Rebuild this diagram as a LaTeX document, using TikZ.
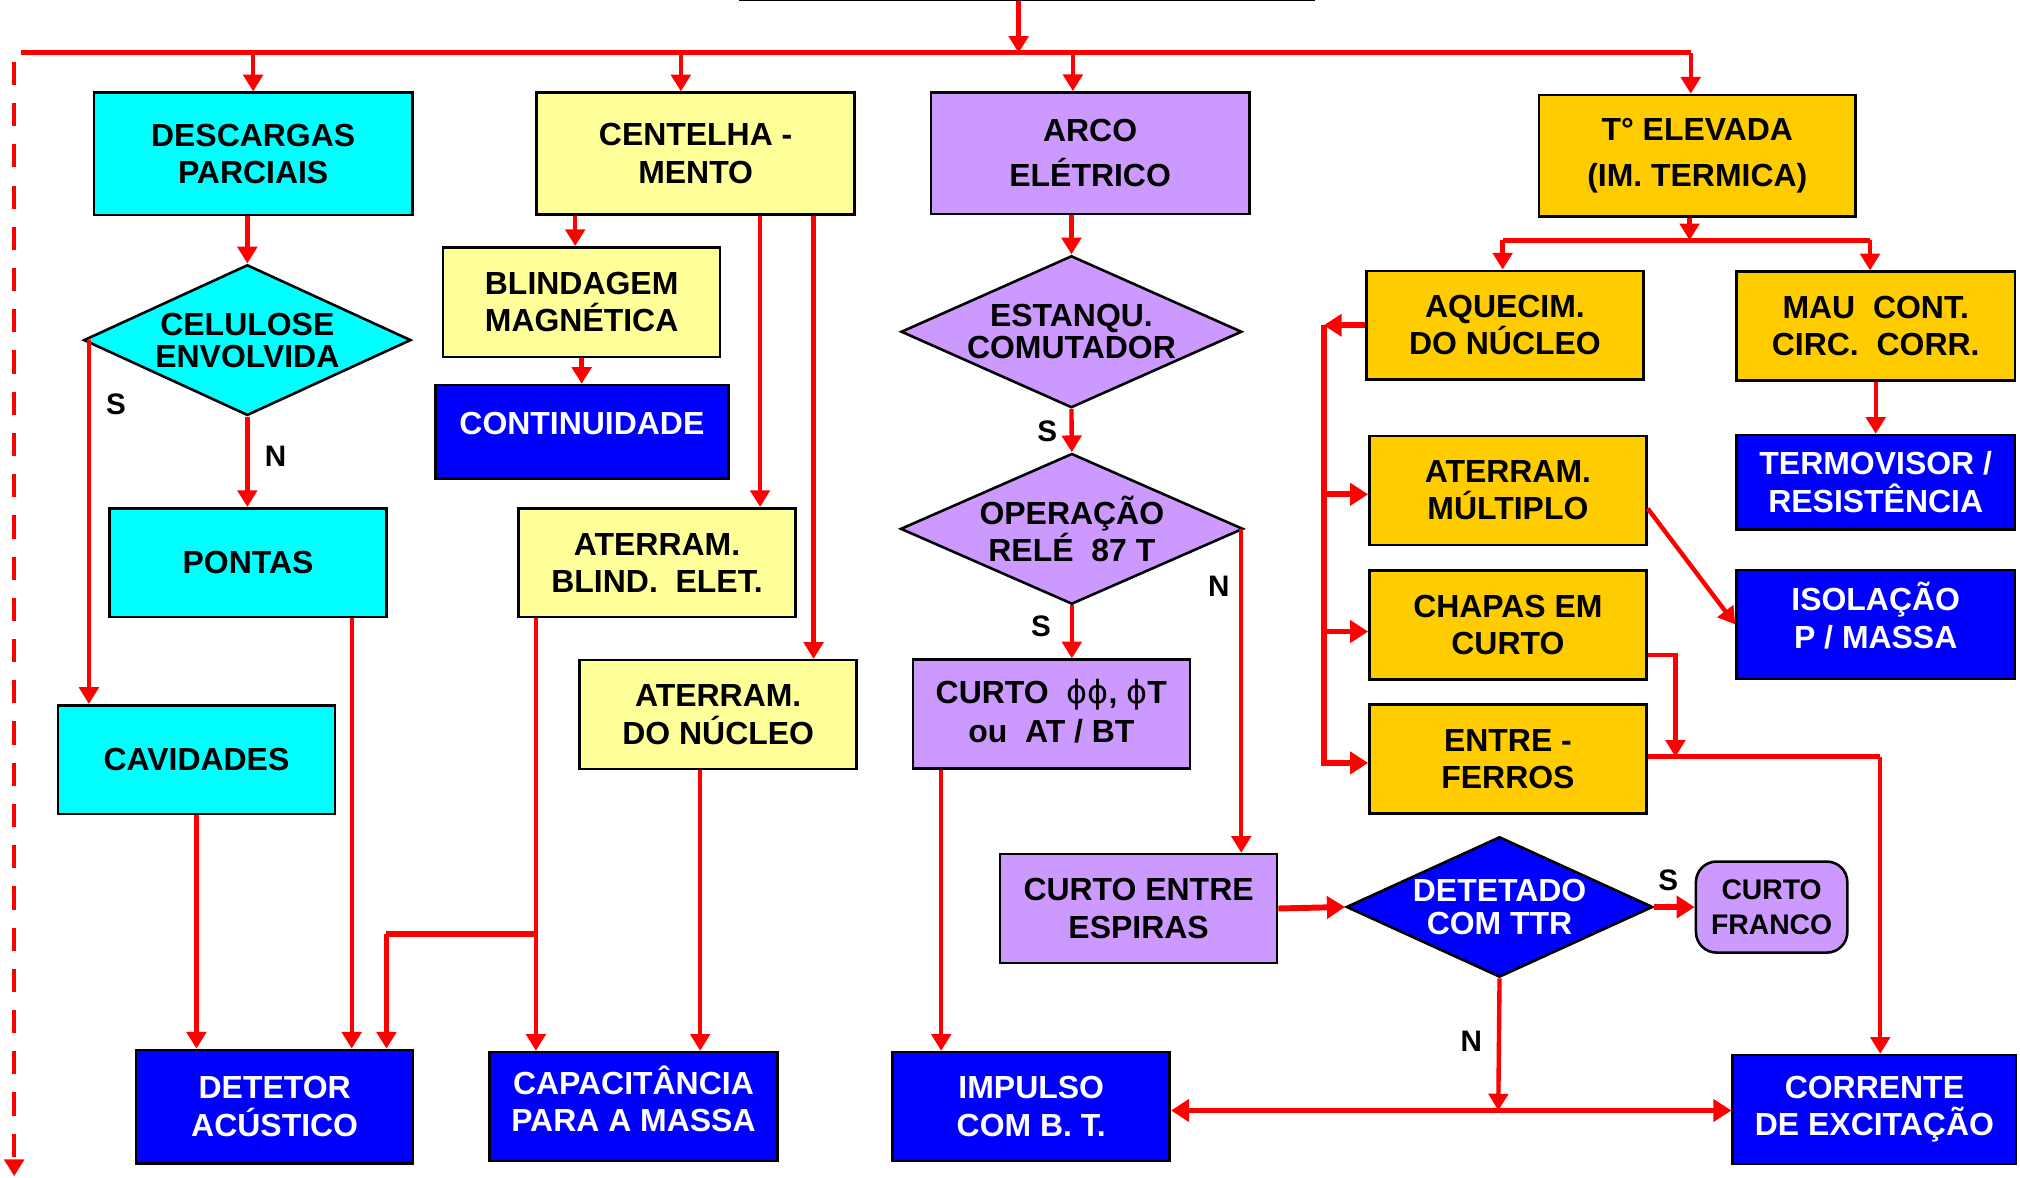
\documentclass[tikz,border=0pt]{standalone}
\usepackage{fontspec}
\setmainfont{Liberation Sans}
\newfontfamily\gregofont{DejaVu Sans}
\usepackage{tikz}
\usetikzlibrary{arrows.meta,shapes.geometric}
\definecolor{ciano}{RGB}{0,255,255}
\definecolor{amarelo}{RGB}{255,255,153}
\definecolor{lilas}{RGB}{204,153,255}
\definecolor{ouro}{RGB}{255,204,0}
\definecolor{azul}{RGB}{0,0,255}
\definecolor{vermelho}{RGB}{255,0,0}
\tikzstyle{caixa}=[rectangle,draw=black,line width=2pt,inner sep=0pt,align=center,font=\bfseries\fontsize{24.8}{29}\selectfont]
\tikzstyle{padrao}=[caixa,minimum width=215pt,minimum height=84.5pt]
\tikzstyle{grande}=[caixa,minimum width=247pt,minimum height=94.5pt]
\tikzstyle{losango}=[diamond,draw=black,line width=2pt,inner sep=-4pt,aspect=2.3,align=center,font=\bfseries\fontsize{24.8}{25}\selectfont]
\tikzstyle{escuro}=[fill=azul,text=white]
\tikzstyle{rotulo}=[inner sep=0pt,font=\bfseries\fontsize{23}{23}\selectfont]
\tikzstyle{fio}=[draw=vermelho,line width=3.4pt]
\tikzstyle{seta}=[fio,-{Triangle[length=13pt,width=15pt]}]
\tikzstyle{fiogrosso}=[draw=vermelho,line width=4.6pt]
\tikzstyle{setagrossa}=[fiogrosso,-{Triangle[length=14pt,width=17pt]}]
\tikzstyle{setadupla}=[fiogrosso,{Triangle[length=14pt,width=17pt]}-{Triangle[length=14pt,width=17pt]}]
\tikzstyle{tracejado}=[fio,dash pattern=on 18pt off 14pt,-{Triangle[length=13pt,width=15pt]}]

\begin{document}
\begin{tikzpicture}[x=1pt,y=-1pt]
	\useasboundingbox (0,0) rectangle (1568,914);
	\clip (0,0) rectangle (1568,914);
	\node[draw=black,line width=2pt,minimum width=445pt,minimum height=80pt,anchor=south] (origem) at (797,1) {};

	\node[grande,fill=ciano,minimum height=95pt] (descargas) at (196.5,119.5) {DESCARGAS\\PARCIAIS};
	\node[grande,fill=amarelo] (centelha) at (540,119.2) {CENTELHA -\\MENTO};
	\node[grande,fill=lilas,font=\bfseries\fontsize{24.8}{35}\selectfont] (arco) at (846.2,119) {ARCO\\ELÉTRICO};
	\node[grande,fill=ouro,minimum width=246pt,font=\bfseries\fontsize{24.8}{36}\selectfont] (elevada) at (1317.5,121) {T° ELEVADA\\(IM. TERMICA)};

	\node[losango,fill=ciano,minimum width=254pt,minimum height=117pt] (celulose) at (192,264) {CELULOSE\\ENVOLVIDA};
	\node[padrao,fill=ciano] (pontas) at (192.5,436.8) {PONTAS};
	\node[padrao,fill=ciano] (cavidades) at (152.5,589.7) {CAVIDADES};
	\node[padrao,escuro,minimum height=88pt] (detetor) at (213.2,859) {DETETOR\\ACÚSTICO};

	\node[padrao,fill=amarelo,minimum height=85pt] (blindagem) at (451.5,234.5) {BLINDAGEM\\MAGNÉTICA};
	\node[caixa,escuro,minimum width=227.5pt,minimum height=72.5pt,text depth=13pt] (continuidade) at (451.7,335.2) {CONTINUIDADE};
	\node[padrao,fill=amarelo] (blindelet) at (510,436.8) {ATERRAM.\\BLIND.\ \ ELET.};
	\node[padrao,fill=amarelo] (nucleo) at (557.5,554.7) {ATERRAM.\\DO NÚCLEO};
	\node[padrao,escuro,minimum width=223.5pt,text depth=12pt] (capacitancia) at (491.7,858.9) {CAPACITÂNCIA\\PARA A MASSA};

	\node[losango,fill=lilas,minimum width=264.5pt,minimum height=118pt] (estanqu) at (831.7,257.5) {ESTANQU.\\COMUTADOR};
	\node[losango,fill=lilas,minimum width=266pt,minimum height=117pt,font=\bfseries\fontsize{24.8}{26}\selectfont] (operacao) at (832,410.5) {OPERAÇÃO\\RELÉ\ \ 87 T};
	\node[padrao,fill=lilas,font=\bfseries\fontsize{24.8}{30}\selectfont,text depth=5pt] (curtofase) at (816.1,554.3) {CURTO\ \ {\gregofont\mdseries ϕϕ}, {\gregofont\mdseries ϕ}T\\ou\ \ AT / BT};
	\node[padrao,fill=lilas] (curtoesp) at (883.8,705.2) {CURTO ENTRE\\ESPIRAS};
	\node[padrao,escuro] (impulso) at (800.5,858.9) {IMPULSO\\COM B. T.};
	\node[losango,escuro,minimum width=238pt,minimum height=109pt] (detetado) at (1164,704) {DETETADO\\COM TTR};
	\node[caixa,fill=lilas,rounded corners=16pt,minimum width=117.5pt,minimum height=70.7pt,font=\bfseries\fontsize{22}{26.7}\selectfont] (franco) at (1375.2,704.1) {CURTO\\FRANCO};
	\node[padrao,escuro,minimum width=220pt] (corrente) at (1455,861.2) {CORRENTE\\DE EXCITAÇÃO};

	\node[padrao,fill=ouro] (aquecim) at (1168.2,252.5) {AQUECIM.\\DO NÚCLEO};
	\node[padrao,fill=ouro,minimum width=216pt] (maucont) at (1456,253.2) {MAU\ \ CONT.\\CIRC.\ \ CORR.};
	\node[padrao,fill=ouro] (multiplo) at (1170.5,380.7) {ATERRAM.\\MÚLTIPLO};
	\node[padrao,fill=ouro] (chapas) at (1170.5,485.2) {CHAPAS EM\\CURTO};
	\node[padrao,fill=ouro] (ferros) at (1170.5,589.2) {ENTRE -\\FERROS};
	\node[caixa,escuro,minimum width=216pt,minimum height=73.2pt] (termovisor) at (1456,374.3) {TERMOVISOR /\\RESISTÊNCIA};
	\node[padrao,escuro,minimum width=216pt,text depth=14pt] (isolacao) at (1456,484.7) {ISOLAÇÃO\\P / MASSA};

	\node[rotulo] (s1) at (90,314) {S};
	\node[rotulo] (n1) at (214,354) {N};
	\node[rotulo] (s2) at (813,335) {S};
	\node[rotulo] (s3) at (808,486) {S};
	\node[rotulo] (n2) at (946,455) {N};
	\node[rotulo] (s4) at (1295,683) {S};
	\node[rotulo] (n3) at (1142,808.5) {N};

	\coordinate (b0) at (16,41);
	\coordinate (b1) at (196.5,41);
	\coordinate (b2) at (528.5,41);
	\coordinate (bt) at (790.7,41);
	\coordinate (b3) at (832.8,41);
	\coordinate (b4) at (1312.4,41);
	\coordinate (d0) at (11,48);
	\coordinate (d1) at (11,913);
	\coordinate (j1) at (417,725);
	\coordinate (j2) at (300,725);
	\coordinate (j3) at (1163,862);
	\coordinate (j4) at (1311.5,186.5);
	\coordinate (j5) at (1166.4,186.5);
	\coordinate (j6) at (1451.6,186.5);
	\coordinate (j7) at (1027.5,252.5);
	\coordinate (j8) at (1300.5,587.5);
	\coordinate (j9) at (1459.5,587.5);
	\coordinate (em) at ([yshift=-3pt]multiplo.west);
	\coordinate (ec) at ([yshift=-5pt]chapas.west);
	\coordinate (ef) at ([yshift=-3pt]ferros.west);

	\path[fiogrosso,line width=4pt] (b0) -- (b4);
	\path[seta] (bt |- origem.south) -- (bt);
	\path[seta] (b1) -- (b1 |- descargas.north);
	\path[seta] (b2) -- (b2 |- centelha.north);
	\path[seta] (b3) -- (b3 |- arco.north);
	\path[seta] (b4) -- (b4 |- elevada.north);
	\path[tracejado] (d0) -- (d1);

	\path[seta] (celulose.north |- descargas.south) -- (celulose.north);
	\path[seta] ([xshift=5pt]celulose.west) -- ([xshift=5pt]celulose.west |- cavidades.north);
	\path[seta] (celulose.south) -- (celulose.south |- pontas.north);
	\path[seta] (cavidades.south) -- (cavidades.south |- detetor.north);
	\path[seta] ([xshift=80.5pt]pontas.south) -- ([xshift=80.5pt]pontas.south |- detetor.north);
	\path[fiogrosso,line width=4pt] (j1) -- (j2);
	\path[seta] (j2) -- (j2 |- detetor.north);

	\path[seta] ([xshift=31pt]centelha.south west) -- ([xshift=31pt]centelha.south west |- blindagem.north);
	\path[seta] (blindagem.south) -- (blindagem.south |- continuidade.north);
	\path[seta] ([xshift=50pt]centelha.south) -- ([xshift=50pt]centelha.south |- blindelet.north);
	\path[seta] ([xshift=91.5pt]centelha.south) -- ([xshift=91.5pt]centelha.south |- nucleo.north);
	\path[seta] ([xshift=14.5pt]blindelet.south west) -- ([xshift=14.5pt]blindelet.south west |- capacitancia.north);
	\path[seta] ([xshift=-14pt]nucleo.south) -- ([xshift=-14pt]nucleo.south |- capacitancia.north);

	\path[seta] (estanqu.north |- arco.south) -- (estanqu.north);
	\path[seta] (estanqu.south) -- (operacao.north);
	\path[seta] (operacao.south) -- (operacao.south |- curtofase.north);
	\path[seta] ([xshift=-2.5pt]operacao.east) -- ([xshift=-2.5pt]operacao.east |- curtoesp.north);
	\path[seta] ([xshift=23pt]curtofase.south west) -- ([xshift=23pt]curtofase.south west |- impulso.north);
	\path[setagrossa] (curtoesp.east) -- (detetado.west);
	\path[setagrossa] (detetado.east) -- (franco.west);
	\path[seta] (detetado.south) -- (j3);
	\path[setadupla] (j3 -| impulso.east) -- (j3 -| corrente.west);

	\path[seta] (elevada.south -| j4) -- (j4);
	\path[fiogrosso,line width=4pt] (j5) -- (j6);
	\path[seta] (j5) -- (j5 |- aquecim.north);
	\path[seta] (j6) -- (j6 |- maucont.north);
	\path[seta] (maucont.south) -- (termovisor.north);

	\path[setagrossa] (aquecim.west) -- (j7);
	\path[setagrossa] (j7) |- (ef);
	\path[setagrossa] (j7 |- em) -- (em);
	\path[setagrossa] (j7 |- ec) -- (ec);
	\path[seta] ([yshift=-14pt]multiplo.east) -- (isolacao.west);
	\path[seta] ([yshift=-23pt]chapas.east) -| (j8);
	\path[fiogrosso,line width=4pt] (ferros.east |- j9) -- (j9);
	\path[seta] (j9) -- (j9 |- corrente.north);
\end{tikzpicture}
\end{document}
